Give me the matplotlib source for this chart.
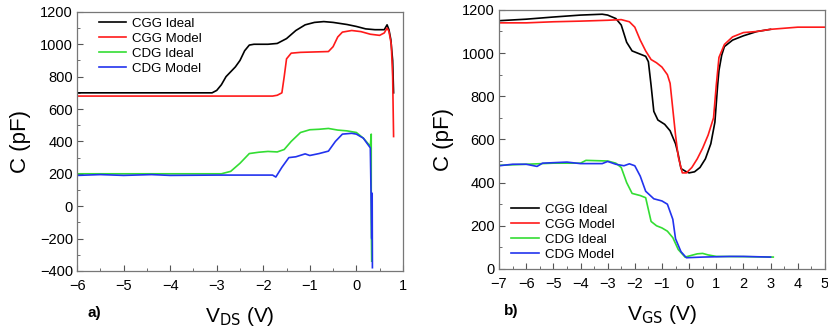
import matplotlib
matplotlib.use("Agg")
import matplotlib.pyplot as plt
from matplotlib.ticker import MultipleLocator

plt.rcParams['font.family'] = ['Liberation Sans', 'DejaVu Sans']

# ---- panel a) : C vs VDS ----
a_cgg_ideal_x = [-6, -3.1, -3.0, -2.9, -2.8, -2.7, -2.6, -2.5, -2.4, -2.3, -2.2, -1.9, -1.7, -1.5,
                 -1.3, -1.1, -0.9, -0.7, -0.5, -0.2, 0.0, 0.2, 0.4, 0.6, 0.66, 0.7, 0.74, 0.78, 0.8]
a_cgg_ideal_y = [700, 700, 715, 750, 800, 830, 860, 900, 960, 995, 1000, 1000, 1005, 1035,
                 1085, 1120, 1135, 1140, 1135, 1122, 1110, 1095, 1090, 1090, 1120, 1090, 1030, 900, 700]

a_cgg_model_x = [-6, -1.8, -1.7, -1.6, -1.55, -1.5, -1.4, -1.2, -0.6, -0.5, -0.4, -0.3, -0.1,
                 0.1, 0.3, 0.5, 0.6, 0.66, 0.7, 0.75, 0.78, 0.8]
a_cgg_model_y = [680, 680, 685, 700, 800, 910, 945, 950, 955, 985, 1045, 1075, 1085,
                 1078, 1062, 1055, 1070, 1100, 1080, 1000, 800, 430]

a_cdg_ideal_x = [-6, -2.9, -2.7, -2.5, -2.3, -2.1, -1.9, -1.7, -1.55, -1.4, -1.2, -1.0, -0.8,
                 -0.6, -0.4, -0.2, 0.0, 0.15, 0.3, 0.32, 0.32, 0.33]
a_cdg_ideal_y = [200, 200, 215, 265, 325, 333, 338, 335, 350, 400, 455, 472, 475,
                 480, 470, 465, 455, 420, 370, 445, -100, -340]

a_cdg_model_x = [-6, -5.5, -5, -4.4, -4, -3, -1.8, -1.73, -1.6, -1.45, -1.3, -1.1, -1.0, -0.8,
                 -0.6, -0.45, -0.3, -0.1, 0.0, 0.15, 0.3, 0.32, 0.33, 0.34, 0.345]
a_cdg_model_y = [190, 195, 190, 195, 190, 192, 192, 180, 240, 300, 305, 323, 313, 325,
                 340, 400, 445, 450, 445, 420, 360, 0, -200, 80, -380]

# ---- panel b) : C vs VGS ----
b_cgg_ideal_x = [-7, -6, -5, -4, -3.2, -3.0, -2.7, -2.5, -2.3, -2.1, -1.8, -1.6, -1.5, -1.4,
                 -1.3, -1.15, -0.9, -0.7, -0.5, -0.4, -0.3, -0.1, 0.0, 0.2, 0.4, 0.6, 0.8,
                 0.95, 1.05, 1.1, 1.2, 1.3, 1.6, 2.0, 2.5, 3.0]
b_cgg_ideal_y = [1150, 1157, 1167, 1176, 1180, 1176, 1160, 1130, 1050, 1010, 995, 985, 960, 850,
                 730, 690, 670, 640, 580, 530, 465, 450, 445, 450, 470, 510, 580,
                 680, 850, 920, 990, 1030, 1060, 1080, 1100, 1110]

b_cgg_model_x = [-7, -6, -5, -4, -3, -2.5, -2.2, -2.0, -1.8, -1.6, -1.4, -1.2, -1.0, -0.8,
                 -0.7, -0.6, -0.5, -0.4, -0.25, -0.1, 0.1, 0.3, 0.5, 0.7, 0.9, 1.0, 1.1,
                 1.3, 1.6, 2.0, 2.5, 3.0, 4.0, 5.0]
b_cgg_model_y = [1140, 1140, 1145, 1148, 1152, 1155, 1145, 1120, 1060, 1010, 970, 955, 935, 900,
                 860, 740, 620, 520, 445, 445, 470, 510, 560, 620, 700, 850, 980,
                 1040, 1075, 1095, 1100, 1110, 1120, 1120]

b_cdg_ideal_x = [-7, -5, -4, -3.8, -3.0, -2.7, -2.5, -2.3, -2.1, -1.8, -1.6, -1.4, -1.2, -1.0,
                 -0.8, -0.6, -0.4, -0.15, 0.0, 0.3, 0.5, 0.7, 1.0, 2.0, 3.1]
b_cdg_ideal_y = [480, 490, 490, 503, 500, 490, 470, 400, 350, 340, 330, 220, 200, 190,
                 175, 145, 90, 55, 60, 70, 72, 65, 58, 57, 55]

b_cdg_model_x = [-7, -6.5, -6, -5.6, -5.4, -4.5, -4, -3.2, -3.0, -2.7, -2.4, -2.2, -2.0, -1.8,
                 -1.6, -1.3, -1.0, -0.8, -0.6, -0.5, -0.3, -0.1, 0.5, 1.5, 2.0, 3.0]
b_cdg_model_y = [478, 485, 485, 475, 490, 495, 488, 488, 498, 485, 478, 487, 478, 430,
                 360, 325, 315, 300, 230, 140, 80, 52, 55, 58, 58, 55]

labels = ["CGG Ideal", "CGG Model", "CDG Ideal", "CDG Model"]
colors = ["#000000", "#ff1a1a", "#33dd33", "#2233ee"]

fig = plt.figure(figsize=(8.29, 3.30), dpi=100)
ax1 = fig.add_axes([0.093, 0.179, 0.393, 0.785])
ax2 = fig.add_axes([0.602, 0.185, 0.393, 0.785])

for x, y, lab, c in zip([a_cgg_ideal_x, a_cgg_model_x, a_cdg_ideal_x, a_cdg_model_x],
                        [a_cgg_ideal_y, a_cgg_model_y, a_cdg_ideal_y, a_cdg_model_y],
                        labels, colors):
    ax1.plot(x, y, color=c, lw=1.2, label=lab)

for x, y, lab, c in zip([b_cgg_ideal_x, b_cgg_model_x, b_cdg_ideal_x, b_cdg_model_x],
                        [b_cgg_ideal_y, b_cgg_model_y, b_cdg_ideal_y, b_cdg_model_y],
                        labels, colors):
    ax2.plot(x, y, color=c, lw=1.2, label=lab)

ax1.set_xlim(-6, 1)
ax1.set_ylim(-400, 1200)
ax1.xaxis.set_major_locator(MultipleLocator(1))
ax1.xaxis.set_minor_locator(MultipleLocator(0.5))
ax1.yaxis.set_major_locator(MultipleLocator(200))
ax1.yaxis.set_minor_locator(MultipleLocator(100))

ax2.set_xlim(-7, 5)
ax2.set_ylim(0, 1200)
ax2.xaxis.set_major_locator(MultipleLocator(1))
ax2.xaxis.set_minor_locator(MultipleLocator(0.5))
ax2.yaxis.set_major_locator(MultipleLocator(200))
ax2.yaxis.set_minor_locator(MultipleLocator(100))

for ax in (ax1, ax2):
    for s in ax.spines.values():
        s.set_color("#777777")
        s.set_linewidth(0.9)
    ax.tick_params(which="both", direction="in", colors="#555555", labelcolor="black",
                   labelsize=10.5, top=False, right=False)
    ax.tick_params(which="major", length=4)
    ax.tick_params(which="minor", length=2)
    ax.tick_params(axis="x", pad=5.5)
    ax.tick_params(axis="y", pad=3)
    ax.set_ylabel("C (pF)", fontsize=16, labelpad=6)

ax1.set_xlabel(r"V$_{\mathrm{DS}}$ (V)", fontsize=15, labelpad=9)
ax2.set_xlabel(r"V$_{\mathrm{GS}}$ (V)", fontsize=15, labelpad=9)

ax1.legend(loc="upper left", frameon=False, fontsize=9.5, handlelength=2.1,
           bbox_to_anchor=(0.03, 1.025), labelspacing=0.22, handletextpad=0.45)
ax2.legend(loc="lower left", frameon=False, fontsize=9.5, handlelength=2.1,
           bbox_to_anchor=(0.0, -0.015), labelspacing=0.22, handletextpad=0.45)

fig.text(0.105, 0.038, "a)", fontsize=11, fontweight="bold")
fig.text(0.608, 0.045, "b)", fontsize=11, fontweight="bold")

fig.savefig("out.png", dpi=100)
